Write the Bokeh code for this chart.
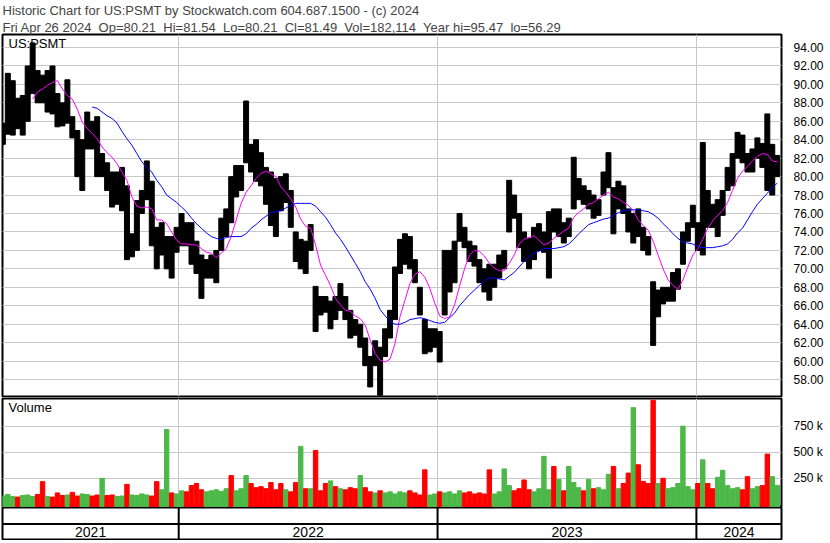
import datetime as dt
from bokeh.plotting import figure
from bokeh.layouts import column
from bokeh.models import Title, Label, FixedTicker, Range1d, Span, NumeralTickFormatter
from bokeh.embed import file_html
from bokeh.resources import INLINE
from bokeh.core.properties import value

FONT = "Liberation Sans"

# ---------------- data (weekly) ----------------
first_week = dt.datetime(2021, 4, 28)

high = [85.8, 91.2, 90.4, 88.5, 88.8, 92.0, 94.5, 91.5, 91.0, 91.5,
        92.0, 89.0, 88.0, 90.5, 86.5, 85.0, 84.0, 87.0, 86.0, 86.5,
        82.5, 81.5, 80.5, 80.5, 81.0, 79.0, 73.8, 77.4, 78.5, 81.7,
        79.5, 74.5, 75.0, 73.5, 73.5, 74.5, 76.0, 75.0, 75.0, 73.0,
        71.5, 71.0, 71.5, 72.0, 75.5, 76.5, 80.0, 81.2, 81.2, 88.2,
        83.5, 84.0, 82.6, 81.0, 80.5, 79.8, 80.0, 80.3, 78.5, 74.0,
        73.2, 73.0, 74.8, 68.1, 67.0, 67.0, 66.5, 67.0, 68.4, 67.0,
        65.5, 64.5, 64.0, 62.5, 60.5, 62.2, 61.5, 63.5, 65.5, 70.2,
        73.2, 73.8, 73.5, 71.0, 68.0, 64.5, 63.5, 63.5, 63.2, 72.0,
        72.0, 73.0, 76.0, 74.5, 73.0, 72.5, 71.0, 70.0, 70.5, 70.5,
        71.5, 72.0, 79.6, 78.0, 76.0, 74.0, 73.3, 74.5, 74.9, 74.0,
        76.2, 76.5, 76.5, 75.0, 75.5, 82.1, 79.8, 79.0, 78.5, 78.0,
        77.5, 80.5, 82.6, 78.8, 79.5, 79.0, 76.5, 76.0, 76.5, 74.5,
        73.5, 68.6, 67.7, 68.0, 68.0, 69.6, 70.0, 74.0, 75.0, 76.9,
        75.0, 83.7, 78.5, 77.0, 77.5, 78.5, 81.0, 82.5, 84.8, 84.5,
        82.5, 83.0, 84.2, 83.6, 86.8, 83.5, 82.3]

low = [83.5, 84.6, 84.5, 85.2, 84.5, 86.0, 89.0, 88.0, 88.0, 87.0,
       86.8, 85.4, 85.5, 85.8, 84.2, 80.0, 78.5, 83.0, 83.0, 80.0,
       80.0, 78.5, 76.7, 77.0, 76.3, 71.0, 71.3, 72.0, 76.0, 77.5,
       72.5, 70.0, 71.5, 70.0, 69.0, 71.8, 72.5, 72.5, 70.5, 69.5,
       66.8, 69.0, 69.0, 68.5, 72.0, 73.5, 75.0, 77.8, 78.5, 81.5,
       80.5, 79.5, 79.0, 77.0, 74.7, 73.5, 76.3, 77.2, 74.5, 70.8,
       70.0, 69.5, 72.0, 63.2, 65.0, 65.3, 63.5, 64.5, 65.5, 64.5,
       62.5, 62.8, 61.5, 59.5, 57.2, 59.5, 56.3, 60.5, 62.5, 64.5,
       69.5, 70.5, 70.0, 68.5, 65.0, 60.8, 61.0, 61.5, 59.9, 65.0,
       67.5, 68.5, 73.0, 72.3, 70.8, 70.3, 68.5, 67.5, 66.6, 68.0,
       69.0, 70.0, 74.0, 75.5, 72.3, 70.8, 70.0, 71.0, 72.0, 71.8,
       69.0, 74.0, 73.5, 72.8, 73.5, 76.5, 77.5, 77.0, 76.5, 75.5,
       75.8, 78.0, 78.8, 73.8, 76.5, 76.0, 74.0, 72.8, 73.5, 72.0,
       71.5, 61.7, 64.8, 66.2, 66.5, 66.5, 67.8, 70.5, 73.0, 74.5,
       72.0, 71.5, 74.5, 74.5, 73.5, 75.8, 78.5, 79.0, 82.0, 81.5,
       80.5, 80.5, 82.0, 81.0, 78.5, 78.0, 80.0]

close = [84.5, 88.0, 88.0, 86.5, 86.5, 90.5, 91.5, 89.0, 88.5, 89.0,
         88.0, 87.0, 86.5, 87.5, 85.0, 81.5, 82.5, 85.0, 84.0, 81.5,
         82.0, 79.5, 78.0, 79.0, 79.5, 72.0, 72.5, 76.5, 77.5, 79.5,
         74.0, 72.0, 72.3, 72.8, 72.5, 73.0, 74.5, 73.5, 71.5, 71.0,
         68.5, 70.0, 70.5, 71.5, 74.5, 75.5, 75.2, 80.0, 80.0, 84.0,
         82.0, 81.5, 80.5, 78.0, 77.5, 77.0, 76.5, 78.5, 75.5, 72.0,
         72.5, 71.0, 73.0, 66.5, 66.0, 65.8, 66.2, 65.5, 67.0, 65.5,
         64.0, 63.5, 63.8, 61.0, 58.5, 60.5, 59.0, 62.0, 64.5, 69.0,
         71.5, 72.0, 71.5, 69.5, 66.0, 62.0, 62.3, 62.5, 61.0, 70.0,
         70.5, 72.0, 74.5, 73.5, 71.8, 71.0, 69.5, 68.5, 68.0, 69.5,
         70.5, 71.0, 77.0, 76.5, 73.5, 72.0, 71.5, 73.0, 73.5, 73.8,
         75.0, 74.8, 75.2, 74.0, 74.8, 78.5, 78.8, 78.0, 78.3, 76.5,
         77.0, 79.5, 80.5, 75.5, 78.0, 76.5, 75.0, 75.5, 74.0, 73.0,
         72.5, 64.5, 67.0, 66.6, 67.0, 68.5, 69.0, 73.5, 74.5, 75.5,
         72.5, 77.0, 76.0, 75.5, 76.0, 77.5, 80.0, 81.5, 83.5, 83.0,
         81.0, 82.0, 83.0, 82.5, 80.0, 81.0, 81.49]

# weekly volume, thousands of shares
volume_k = [80, 95, 75, 70, 85, 90, 75, 95, 218, 75,
            70, 110, 85, 90, 115, 80, 100, 95, 80, 90,
            250, 85, 90, 75, 80, 192, 90, 85, 100, 90,
            80, 218, 140, 718, 110, 100, 130, 120, 180, 200,
            140, 120, 130, 140, 125, 150, 276, 130, 150, 276,
            200, 160, 170, 150, 210, 140, 200, 140, 120, 210,
            556, 150, 150, 517, 130, 200, 225, 170, 150, 140,
            160, 150, 276, 160, 120, 110, 130, 110, 120, 100,
            120, 110, 130, 110, 90, 331, 90, 100, 120, 110,
            120, 100, 130, 110, 120, 100, 110, 100, 331, 100,
            120, 340, 180, 130, 150, 234, 140, 120, 150, 460,
            140, 363, 240, 130, 363, 210, 160, 130, 240, 150,
            160, 140, 289, 363, 150, 200, 300, 927, 380, 220,
            200, 998, 200, 250, 150, 160, 200, 750, 170, 140,
            200, 427, 200, 150, 260, 327, 180, 150, 160, 140,
            266, 150, 170, 180, 482, 266, 182]

# short moving average (magenta), from week 6 on
ma_short = [88.4, 89.2, 89.5, 89.9, 90.2, 90.4, 89.5, 88.8, 88.4, 87.3,
            85.9, 85.2, 84.7, 84.1, 83.2, 82.6, 82.1, 81.4, 80.5, 79.6,
            77.8, 76.8, 76.6, 76.7, 76.5, 75.3, 75.3, 74.9, 74.0, 73.1,
            72.7, 72.7, 72.6, 72.6, 72.2, 71.8, 71.7, 71.2, 71.7, 72.2,
            73.5, 75.3, 77.1, 78.3, 79.0, 79.8, 80.35, 80.6, 80.3, 80.0,
            78.9, 78.3, 77.6, 76.7, 75.4, 74.6, 74.4, 72.6, 70.4, 69.3,
            68.2, 66.8, 66.1, 65.5, 65.4, 64.9, 64.6, 63.9, 62.3, 60.8,
            60.1, 59.9, 60.2, 61.9, 64.8, 66.6, 68.4, 69.4, 69.7, 69.1,
            67.9, 66.3, 64.9, 64.6, 64.8, 66.1, 68.1, 70.0, 71.5, 72.0,
            71.9, 71.4, 70.6, 70.1, 69.8, 69.8, 70.6, 71.5, 72.7, 73.2,
            73.4, 73.6, 73.1, 72.6, 72.8, 73.3, 73.7, 74.1, 74.4, 75.6,
            76.1, 76.5, 77.0, 77.2, 77.6, 78.0, 78.3, 77.8, 77.6, 77.2,
            76.9, 76.3, 75.3, 74.7, 74.2, 73.0, 71.5, 70.0, 68.8, 68.2,
            67.8, 68.8, 70.2, 71.5, 72.2, 73.2, 74.4, 75.2, 75.8, 76.3,
            77.2, 78.5, 79.8, 80.6, 81.1, 81.7, 82.2, 82.5, 82.4, 81.7,
            81.6]

# long moving average (blue), from week 18 on
ma_long = [87.55, 87.4, 87.0, 86.6, 86.3, 85.8, 84.9, 84.1,
           83.4, 82.5, 81.6, 81.0, 80.5, 79.6, 78.9, 78.0, 77.6, 77.2,
           76.7, 76.2, 75.5, 74.9, 74.4, 73.9, 73.5, 73.3, 73.2, 73.4,
           73.5, 73.5, 73.5, 73.8, 74.4, 74.8, 75.3, 75.7, 76.1, 76.2,
           76.3, 76.6, 76.9, 77.1, 77.1, 77.1, 77.1, 76.8, 76.2, 75.6,
           74.8, 73.9, 73.2, 72.4, 71.5, 70.6, 69.7, 68.6, 67.8, 66.8,
           65.6, 64.9, 64.3, 64.0, 64.0, 64.2, 64.5, 64.6, 64.7, 64.6,
           64.4, 64.2, 64.1, 64.2, 64.7, 65.2, 66.0, 66.6, 67.2, 67.7,
           68.2, 68.7, 69.0, 69.0, 68.9, 68.8, 69.2, 69.6, 70.2, 70.8,
           71.3, 71.7, 71.9, 72.2, 72.2, 72.2, 72.3, 72.4, 72.7, 73.2,
           73.8, 74.3, 74.8, 75.0, 75.2, 75.4, 75.5, 75.8, 76.1, 76.3,
           76.4, 76.4, 76.4, 76.3, 76.2, 75.9, 75.5, 74.9, 74.4, 73.8,
           73.3, 72.9, 72.8, 72.7, 72.4, 72.3, 72.3, 72.3, 72.4, 72.5,
           72.7, 73.2, 73.9, 74.4, 75.3, 76.2, 77.0, 77.6, 78.2, 78.8,
           79.3]

years = [2021, 2022, 2023, 2024]
price_ticks = [58, 60, 62, 64, 66, 68, 70, 72, 74, 76, 78, 80, 82, 84, 86, 88, 90, 92, 94]
volume_ticks = [250000, 500000, 750000]
volume_tick_labels = ["250 k", "500 k", "750 k"]
symbol = "US:PSMT"
header1 = "Historic Chart for US:PSMT by Stockwatch.com 604.687.1500 - (c) 2024"
header2 = "Fri Apr 26 2024\u00a0 Op=80.21\u00a0 Hi=81.54\u00a0 Lo=80.21\u00a0 Cl=81.49\u00a0 Vol=182,114\u00a0 Year hi=95.47\u00a0 lo=56.29"

# ---------------- derived ----------------
n = len(high)
dates = [first_week + dt.timedelta(days=7 * i) for i in range(n)]
x_start = dt.datetime(2021, 4, 27, 12)
x_end = dt.datetime(2024, 4, 30)
DAY_MS = 86400000.0


def ms(d):
    return (d - dt.datetime(1970, 1, 1)).total_seconds() * 1000.0


year_starts = [dt.datetime(y, 1, 1) for y in years[1:]]
year_mids = []
for y in years:
    a = max(dt.datetime(y, 1, 1), x_start)
    b = min(dt.datetime(y + 1, 1, 1), x_end)
    year_mids.append(a + (b - a) / 2)

volume = [v * 1000 for v in volume_k]
vol_colors = []
for i in range(n):
    up = True if i == 0 else close[i] >= close[i - 1]
    vol_colors.append("#4cb848" if up else "#ff0000")

GRID = "#c8c8c8"
FW = 779
xr = Range1d(x_start, x_end)


def base_fig(fh, yr, right_axis=True, **kw):
    f = figure(x_axis_type="datetime", x_range=xr, y_range=yr,
               frame_width=FW, frame_height=fh, output_backend="svg",
               toolbar_location=None, y_axis_location="right" if right_axis else None,
               min_border_left=2, min_border_right=49, **kw)
    f.xaxis.visible = False
    f.outline_line_color = "black"
    f.outline_line_width = 2
    f.outline_line_alpha = 1.0
    f.background_fill_color = "white"
    f.border_fill_color = "white"
    f.xgrid.ticker = FixedTicker(ticks=[ms(d) for d in year_starts])
    f.xgrid.grid_line_color = GRID
    return f


# ---------------- price panel ----------------
p = base_fig(362, Range1d(56.16, 95.41), min_border_top=0, min_border_bottom=1)
p.title.text = header1
p.title.align = "left"
p.title.text_font = FONT
p.title.text_font_size = "13px"
p.title.text_font_style = "normal"
p.title.standoff = 0
p.add_layout(Title(text=header2, align="left", text_font=FONT, text_font_size="13px",
                   text_font_style="normal", standoff=0), "above")

p.ygrid.ticker = FixedTicker(ticks=price_ticks)
p.ygrid.grid_line_color = GRID
p.yaxis.ticker = FixedTicker(ticks=price_ticks)
p.yaxis.formatter = NumeralTickFormatter(format="0.00")
p.yaxis.major_label_text_font = FONT
p.yaxis.major_label_text_font_size = "12px"
p.yaxis.major_label_text_color = "black"
p.yaxis.major_tick_line_color = None
p.yaxis.minor_tick_line_color = None
p.yaxis.axis_line_color = None
p.yaxis.major_label_standoff = 6

p.vbar(x=dates, bottom=low, top=high, width=7.0 * DAY_MS, color="black")
p.line(x=dates[n - len(ma_short):], y=ma_short, line_color="#ff00ff", line_width=1)
p.line(x=dates[n - len(ma_long):], y=ma_long, line_color="#0000ff", line_width=1)
p.add_layout(Label(x=6, y=361, x_units="screen", y_units="screen", text=symbol,
                   text_font=FONT, text_font_size="13px", text_baseline="top",
                   text_color="black"))

# ---------------- volume panel ----------------
vr = Range1d(-30000, 1015000)
v = base_fig(109, vr, min_border_top=1, min_border_bottom=0)
v.ygrid.ticker = FixedTicker(ticks=volume_ticks)
v.ygrid.grid_line_color = GRID
v.yaxis.ticker = FixedTicker(ticks=volume_ticks)
v.yaxis.major_label_overrides = dict(zip(volume_ticks, volume_tick_labels))
v.yaxis.major_label_text_font = FONT
v.yaxis.major_label_text_font_size = "12px"
v.yaxis.major_label_text_color = "black"
v.yaxis.major_tick_line_color = None
v.yaxis.minor_tick_line_color = None
v.yaxis.axis_line_color = None
v.yaxis.major_label_standoff = 6
v.vbar(x=dates, bottom=vr.start, top=volume, width=6.2 * DAY_MS, color=vol_colors)
v.add_layout(Label(x=6, y=108, x_units="screen", y_units="screen", text="Volume",
                   text_font=FONT, text_font_size="13px", text_baseline="top",
                   text_color="black"))

# ---------------- year strip ----------------
s = base_fig(33, Range1d(0, 2), right_axis=False, min_border_top=0, min_border_bottom=0)
s.xgrid.visible = False
s.ygrid.visible = False
s.add_layout(Span(location=1, dimension="width", line_color="black", line_width=2))
for d in year_starts:
    s.add_layout(Span(location=ms(d), dimension="height", line_color="black", line_width=2))
s.text(x=year_mids, y=[0.5] * len(year_mids), text=[str(y) for y in years],
       text_align="center", text_baseline="middle", text_font=value(FONT),
       text_font_size="14px", text_color="black")

layout = column(p, v, s, spacing=0)
open("out.html", "w").write(file_html(layout, INLINE))
